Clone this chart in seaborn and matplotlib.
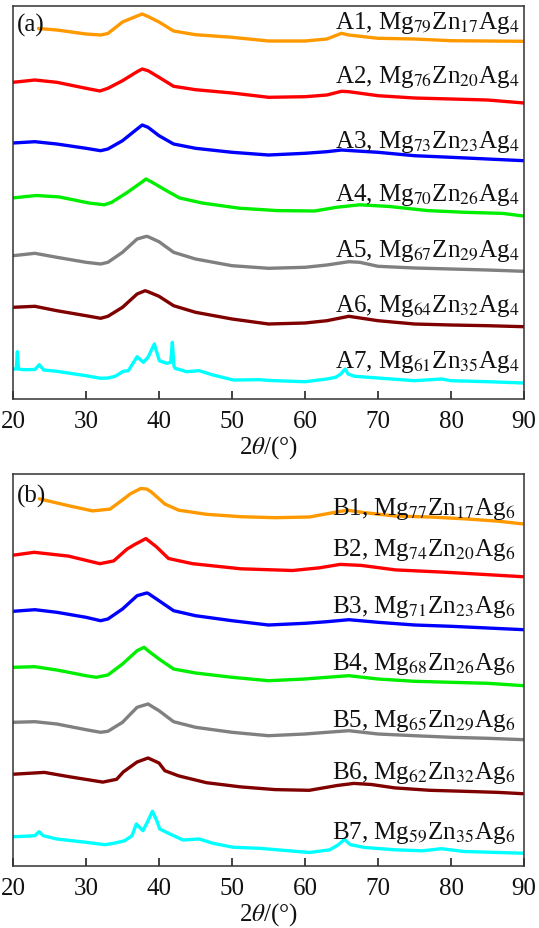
import numpy as np
import pandas as pd
import matplotlib
matplotlib.use("Agg")
import matplotlib.pyplot as plt
import seaborn as sns

# ---------------- data (2theta in degrees, intensity in arbitrary units, stacked) ----------------
tth_A1 = [23.5, 26, 30, 32, 33, 35, 37, 37.7, 38.5, 40, 42, 45, 50, 55, 60, 63, 65, 66, 70, 75, 80, 85, 90]
int_A1 = [370.5, 369, 365, 364, 365.5, 377, 383, 385, 382.5, 377, 368, 364.3, 361.7, 358, 358, 360, 365.7, 364, 360.7, 360, 358.3, 358, 357.7]

tth_A2 = [20, 23, 26, 30, 31.9, 33, 35, 37, 37.7, 38.5, 40, 42, 45, 50, 55, 60, 63, 65, 66, 70, 75, 80, 85, 90]
int_A2 = [316.7, 319, 316.7, 310.7, 308, 310.7, 318.3, 327.3, 330, 328.3, 321.7, 312.7, 309.3, 306, 301.7, 302.3, 304, 307.7, 307.3, 303.3, 301, 300, 299, 296]

tth_A3 = [20, 23, 26, 30, 32, 33, 35, 37, 37.7, 38.5, 40, 42, 45, 50, 55, 60, 63, 65, 66, 70, 75, 80, 85, 90]
int_A3 = [256, 257.3, 255, 250.7, 248.3, 250, 258.3, 270, 274, 271.7, 263.3, 255, 250.7, 246.7, 244, 245.7, 247.3, 249, 248.5, 246.7, 243.3, 241.7, 240, 238.3]

tth_A4 = [20, 23.2, 26.3, 30.4, 32.5, 33.5, 35.6, 37.6, 38.2, 39.1, 40.7, 42.8, 45.9, 51, 56.2, 61.3, 64.4, 67.5, 71.6, 76.8, 81.9, 87.1, 90]
int_A4 = [201.1, 203.5, 202.1, 196, 194.2, 196.6, 206.3, 216.6, 220, 216.6, 209.7, 201.1, 196, 190.8, 188.4, 188, 191.8, 194.2, 192.5, 188.4, 186.7, 185.6, 182.9]

tth_A5 = [20, 23, 26, 30, 32, 33, 35, 37, 38.3, 38.5, 40, 42, 45, 50, 55, 60, 63, 66, 67.5, 70, 75, 80, 85, 90]
int_A5 = [143.3, 145.7, 141.7, 136.7, 135, 136.7, 146.7, 160, 162.7, 162.3, 157.3, 146.7, 140, 133.3, 130.7, 131.7, 134, 137.3, 136.7, 132.7, 131, 130, 129, 127.7]

tth_A6 = [20, 23, 26, 30, 32, 33, 35, 37, 38.1, 38.5, 40, 42, 45, 50, 55, 60, 63, 66, 70, 75, 80, 85, 90]
int_A6 = [91.7, 92.7, 88.3, 83.3, 80.7, 82.7, 91.7, 105, 108.3, 107.3, 102.7, 93.3, 86.7, 80, 75, 76, 78.3, 82.7, 78.3, 75, 74, 73.3, 72.3]

tth_A7 = [20, 20.45, 20.6, 20.75, 21.5, 23.0, 23.6, 24.2, 26, 30, 32, 33, 34, 35.1, 35.8, 37.0, 37.85,
          38.5, 39.36, 39.7, 40.05, 41.05, 41.6, 41.83, 42.05, 42.2, 43.8, 45.5, 47.4, 50.2, 53.8, 55.2,
          60, 63, 64.2, 64.9, 65.5, 65.9, 66.8, 70, 75, 78.7, 80, 85, 90]
int_A7 = [30, 30, 47.3, 30, 29.3, 29.5, 34.3, 29, 27.7, 23.3, 20.7, 21, 22.7, 27.7, 28.3, 42.3, 36.7,
          41.7, 55, 46.7, 38.3, 35.7, 36.7, 56.7, 33, 30.7, 27.3, 28.3, 24, 19, 19.3, 18.5,
          17.3, 20, 21.7, 25, 30, 25, 22.7, 21, 18.3, 20, 18.3, 17.3, 16]

tth_B1 = [23.6, 27.6, 30.9, 33.3, 35.2, 36.1, 37.5, 38.3, 38.95, 40.8, 42.7, 46.5, 51.2, 55.9, 60.6, 64.4, 65.8, 68.1, 72.3, 77.1, 81.8, 86.5, 89.8]
int_B1 = [367.2, 360.3, 355.1, 356.9, 367.2, 372.3, 377.5, 377, 374, 362, 355.8, 351.7, 349.3, 348.3, 349, 354.1, 355.8, 353.4, 350, 349, 347.2, 344.8, 342.1]

tth_B2 = [20.1, 22.9, 27.6, 31.9, 33.8, 35.6, 36.6, 38.2, 39.6, 41.3, 44.6, 51.2, 58.3, 62, 64.8, 67.7, 72.4, 79.4, 85.1, 89.8]
int_B2 = [310.9, 313.7, 309.9, 302.3, 305.1, 316.8, 321.2, 327.4, 319.5, 307.5, 302.3, 297.2, 295.5, 298.2, 301.6, 300.6, 296.1, 293.7, 291.3, 289.3]

tth_B3 = [20, 23, 26, 30, 32, 33, 35, 37, 38.3, 38.5, 40, 42, 45, 50, 55, 60, 63, 66, 70, 75, 80, 85, 90]
int_B3 = [254.7, 256.3, 253.7, 248.7, 245.3, 247, 257, 270.3, 273, 272.7, 265.3, 255.3, 250.3, 245.3, 241, 242.7, 244.3, 246.3, 243.7, 241, 239.7, 238, 236.3]

tth_B4 = [20, 23, 26, 30, 31.4, 33, 35, 37, 37.95, 38.5, 40, 42, 45, 50, 55, 60, 63, 66, 70, 75, 80, 85, 90]
int_B4 = [198.7, 199.3, 196, 190.3, 188.7, 191, 202, 215.3, 218.7, 215.3, 207, 197, 193, 188.7, 185.3, 187, 188.7, 190.3, 187, 184.7, 183.7, 182.7, 180.3]

tth_B5 = [20, 23, 26, 30, 32, 33, 35, 37, 38.5, 40, 42, 45, 50, 55, 60, 63, 66, 70, 75, 80, 85, 90]
int_B5 = [143.7, 144.3, 142, 136.3, 133.7, 134.7, 143.7, 158.7, 162, 155.3, 144.3, 138.7, 133.7, 130.3, 132, 133.7, 135.3, 132, 130.3, 128.7, 127.7, 126.3]

tth_B6 = [20.1, 24.3, 27.6, 32.3, 34.2, 35.1, 37, 38.5, 40, 40.8, 42.7, 46.5, 51.2, 55.9, 60.6, 64.4, 66.7, 69.1, 72.3, 77.1, 81.8, 86.5, 89.8]
int_B6 = [91.8, 93.6, 89.4, 83.9, 86.7, 94, 104, 108, 103, 95.3, 90.1, 83.3, 79.1, 76.4, 75.7, 80.5, 82.6, 81.5, 78.1, 75.7, 74.7, 73.6, 72.3]

tth_B7 = [20, 21.5, 23.0, 23.56, 24.15, 26, 30, 32.6, 34, 35.3, 36.3, 36.9, 37.8, 38.5, 39.1, 39.7, 40.1,
          41.5, 43.3, 45.5, 47.4, 50.2, 53.8, 60.6, 63.4, 64.6, 65.4, 66.2, 68.1, 72.3, 76.1, 78.7,
          81.8, 86.5, 89.8]
int_B7 = [29.3, 29.7, 30.3, 34.3, 30.3, 27, 23.7, 21.3, 23, 25.3, 30.3, 42, 35.3, 45.3, 54.7, 45.3, 37,
          32, 26, 27, 22.7, 18.7, 17.7, 13.5, 16.2, 21.4, 26.6, 21.4, 18.6, 16.2, 15.2, 17.3,
          14.5, 13.5, 12.8]

labels_a = [r"A1, Mg$_{79}$Zn$_{17}$Ag$_{4}$", r"A2, Mg$_{76}$Zn$_{20}$Ag$_{4}$", r"A3, Mg$_{73}$Zn$_{23}$Ag$_{4}$",
            r"A4, Mg$_{70}$Zn$_{26}$Ag$_{4}$", r"A5, Mg$_{67}$Zn$_{29}$Ag$_{4}$", r"A6, Mg$_{64}$Zn$_{32}$Ag$_{4}$",
            r"A7, Mg$_{61}$Zn$_{35}$Ag$_{4}$"]
labels_b = [r"B1, Mg$_{77}$Zn$_{17}$Ag$_{6}$", r"B2, Mg$_{74}$Zn$_{20}$Ag$_{6}$", r"B3, Mg$_{71}$Zn$_{23}$Ag$_{6}$",
            r"B4, Mg$_{68}$Zn$_{26}$Ag$_{6}$", r"B5, Mg$_{65}$Zn$_{29}$Ag$_{6}$", r"B6, Mg$_{62}$Zn$_{32}$Ag$_{6}$",
            r"B7, Mg$_{59}$Zn$_{35}$Ag$_{6}$"]
xticks = [20, 30, 40, 50, 60, 70, 80, 90]

colors = ["#FF9900", "#FF0000", "#0000FF", "#00EE00", "#808080", "#800000", "#00FFFF"]

# label baselines (in intensity units of each panel)
label_y_a = [370.7, 316.7, 251.7, 199.4, 143.3, 88.3, 31.7]
label_y_b = [351.7, 311.0, 254.3, 197.0, 140.3, 88.4, 28.3]

FS = 18

# ---------------- style ----------------
sns.set_theme(style="ticks")
plt.rcParams["font.family"] = ["Liberation Serif", "DejaVu Serif"]
plt.rcParams["mathtext.fontset"] = "stix"
plt.rcParams["axes.linewidth"] = 1.1
plt.rcParams["axes.edgecolor"] = "#333333"

fig = plt.figure(figsize=(5.39, 9.29), dpi=100)
ax_a = fig.add_axes([13 / 539, (929 - 400) / 929, 511 / 539, 393 / 929])
ax_b = fig.add_axes([13 / 539, (929 - 867) / 929, 511 / 539, 392 / 929])

panel_a = [(tth_A1, int_A1), (tth_A2, int_A2), (tth_A3, int_A3), (tth_A4, int_A4),
           (tth_A5, int_A5), (tth_A6, int_A6), (tth_A7, int_A7)]
panel_b = [(tth_B1, int_B1), (tth_B2, int_B2), (tth_B3, int_B3), (tth_B4, int_B4),
           (tth_B5, int_B5), (tth_B6, int_B6), (tth_B7, int_B7)]


def draw_panel(ax, curves, labels, label_y, label_x, tag, tag_y, ylim_top):
    for (x, y), c, lab, ly in zip(curves, colors, labels, label_y):
        df = pd.DataFrame({"tth": x, "I": y})
        sns.lineplot(data=df, x="tth", y="I", ax=ax, color=c, lw=2.4, sort=True)
        ax.text(label_x, ly, lab, ha="right", va="baseline", fontsize=FS, color="#111111")
    ax.set_xlim(20, 90)
    ax.set_ylim(0, ylim_top)
    ax.set_xticks(xticks)
    ax.set_yticks([])
    ax.tick_params(axis="x", direction="in", length=6, width=1.1, labelsize=FS, pad=8,
                   colors="#111111", top=False)
    ax.set_ylabel("")
    ax.set_xlabel(r"2$\it{\theta}$/(°)", fontsize=FS, labelpad=1, color="#111111")
    for s in ax.spines.values():
        s.set_visible(True)
    ax.text(0.008, tag_y, tag, transform=ax.transAxes, ha="left", va="top", fontsize=FS, color="#111111")


draw_panel(ax_a, panel_a, labels_a, label_y_a, 89.45, "(a)", 0.983, 393)
draw_panel(ax_b, panel_b, labels_b, label_y_b, 88.8, "(b)", 0.975, 392)

fig.savefig("out.png", dpi=100)
